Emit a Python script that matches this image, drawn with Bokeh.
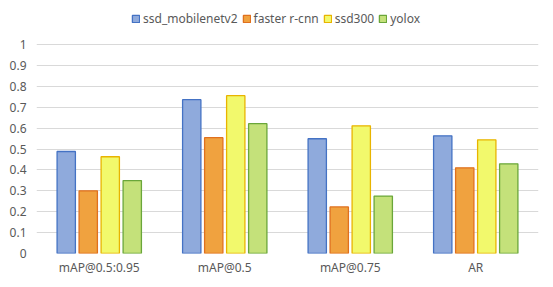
from bokeh.plotting import figure
from bokeh.models import (ColumnDataSource, FactorRange, Range1d, FixedTicker,
                          CustomJSTickFormatter, Legend, LegendItem)
from bokeh.transform import dodge
from bokeh.embed import file_html
from bokeh.resources import INLINE

categories = ["mAP@0.5:0.95", "mAP@0.5", "mAP@0.75", "AR"]
series_names = ["ssd_mobilenetv2", "faster r-cnn", "ssd300", "yolox"]
ssd_mobilenetv2 = [0.488, 0.736, 0.549, 0.563]
faster_rcnn = [0.300, 0.554, 0.223, 0.410]
ssd300 = [0.463, 0.755, 0.611, 0.544]
yolox = [0.349, 0.621, 0.275, 0.429]
y_ticks = [0, 0.1, 0.2, 0.3, 0.4, 0.5, 0.6, 0.7, 0.8, 0.9, 1]

fills = ["#8FAADC", "#F0A23F", "#F2F96C", "#C4E17A"]
lines = ["#4472C4", "#E0701E", "#E8B400", "#6AA63A"]
offsets = [-0.263, -0.0877, 0.0877, 0.263]

source = ColumnDataSource(dict(cat=categories, s0=ssd_mobilenetv2, s1=faster_rcnn,
                               s2=ssd300, s3=yolox))

# frame spans from y=4 to y=253; value 1 sits at y=44 -> top of range 1.1914
p = figure(width=545, height=279, x_range=FactorRange(*categories, range_padding=0),
           y_range=Range1d(0, 1.1914), output_backend="svg", toolbar_location=None,
           min_border_left=36, min_border_right=7, min_border_top=4,
           min_border_bottom=26)
p.outline_line_color = None
p.background_fill_color = "white"
p.border_fill_color = "white"

items = []
for i, name in enumerate(series_names):
    r = p.vbar(x=dodge("cat", offsets[i], range=p.x_range), top="s%d" % i, width=0.146,
               source=source, fill_color=fills[i], line_color=lines[i], line_width=1.3)
    items.append(LegendItem(label=name, renderers=[r]))

p.xgrid.grid_line_color = None
p.ygrid.grid_line_color = "#D9D9D9"
p.ygrid.grid_line_width = 1
p.yaxis.ticker = FixedTicker(ticks=y_ticks)
p.yaxis.formatter = CustomJSTickFormatter(code="return tick.toFixed(1).replace(/\\.0$/, '');")

for ax in (p.xaxis, p.yaxis):
    ax.axis_line_color = None
    ax.major_tick_line_color = None
    ax.minor_tick_line_color = None
    ax.major_tick_out = 0
    ax.major_tick_in = 0
    ax.major_label_text_color = "#595959"
    ax.major_label_text_font = "Noto Sans"
    ax.major_label_text_font_size = "12px"
p.yaxis.major_label_standoff = 10
p.xaxis.major_label_standoff = 5

legend = Legend(items=items, orientation="horizontal", location=(95, 226),
                padding=0, margin=0, spacing=4, label_standoff=3,
                glyph_width=9, glyph_height=9, border_line_color=None,
                background_fill_alpha=0,
                label_text_font="Noto Sans", label_text_font_size="12px",
                label_text_color="#595959", label_height=14)
p.add_layout(legend, "center")

open("out.html", "w").write(file_html(p, INLINE))
